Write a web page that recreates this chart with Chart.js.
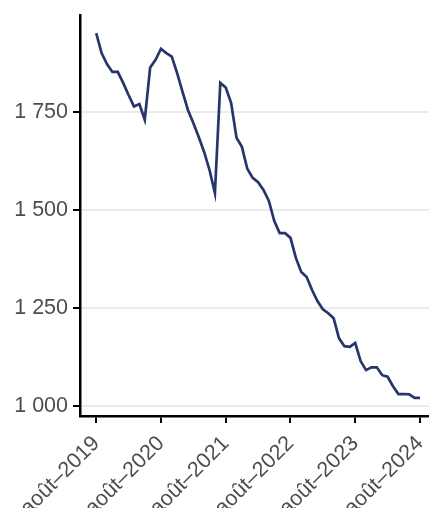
<!DOCTYPE html>
<html>
<head>
<meta charset="utf-8">
<script src="https://cdn.jsdelivr.net/npm/chart.js@4.4.1/dist/chart.umd.min.js"></script>
<style>
  html, body { margin: 0; padding: 0; background: #ffffff; }
  #wrap { width: 429px; height: 508px; position: relative; }
</style>
</head>
<body>
<div id="wrap"><canvas id="c" width="429" height="508"></canvas></div>
<script>
// Monthly series, August 2019 to August 2024 (index 0 = août 2019)
const values = [
  1951, 1900, 1872, 1852, 1852, 1824, 1793, 1764, 1770, 1730, 1863, 1883,
  1911, 1900, 1891, 1849, 1801, 1755, 1722, 1686, 1648, 1602, 1543, 1824,
  1812, 1773, 1684, 1661, 1605, 1582, 1571, 1551, 1523, 1472, 1441, 1441,
  1429, 1378, 1342, 1329, 1296, 1268, 1247, 1237, 1224, 1173, 1153, 1151,
  1161, 1115, 1092, 1099, 1099, 1079, 1075, 1051, 1031, 1031, 1030, 1021,
  1021
];
const xTickPositions = [0, 12, 24, 36, 48, 60];
const xTickLabels = ['août–2019', 'août–2020', 'août–2021', 'août–2022', 'août–2023', 'août–2024'];
const yTickValues = [1000, 1250, 1500, 1750];

const points = values.map((v, i) => ({ x: i, y: v }));
const fmt = v => String(v).replace(/\B(?=(\d{3})+(?!\d))/g, ' ');

const FONT = { family: '"Liberation Sans", Arial, sans-serif', size: 21.5 };

new Chart(document.getElementById('c'), {
  type: 'line',
  data: {
    datasets: [{
      data: points,
      borderColor: '#26366B',
      borderWidth: 2.7,
      pointRadius: 0,
      tension: 0,
      fill: false
    }]
  },
  options: {
    responsive: false,
    animation: false,
    devicePixelRatio: 1,
    layout: { padding: { top: 15, right: 0, left: 0, bottom: 0 } },
    plugins: { legend: { display: false }, tooltip: { enabled: false } },
    scales: {
      x: {
        type: 'linear',
        min: -3,
        max: 61.67,
        offset: false,
        border: { display: true, color: '#000000', width: 2.5 },
        grid: { drawOnChartArea: false, drawTicks: true, tickLength: 7, color: '#000000', tickColor: '#000000', tickWidth: 2, lineWidth: 2 },
        ticks: {
          autoSkip: false,
          maxRotation: 45,
          minRotation: 45,
          padding: 8,
          color: '#4D4D4D',
          font: FONT,
          callback: (v) => {
            const k = xTickPositions.indexOf(v);
            return k >= 0 ? xTickLabels[k] : '';
          }
        },
        afterBuildTicks: (s) => { s.ticks = xTickPositions.map(v => ({ value: v })); },
        afterFit: (s) => { s.height = 92; s.paddingLeft = 0; s.paddingRight = 0; }
      },
      y: {
        type: 'linear',
        min: 975,
        max: 1997,
        border: { display: true, color: '#000000', width: 2.5 },
        grid: { drawOnChartArea: true, drawTicks: true, tickLength: 7, color: '#EBEBEB', lineWidth: 2, tickColor: '#000000', tickWidth: 2 },
        ticks: {
          padding: 5,
          color: '#4D4D4D',
          font: FONT,
          callback: (v) => fmt(v)
        },
        afterBuildTicks: (s) => { s.ticks = yTickValues.map(v => ({ value: v })); },
        afterFit: (s) => { s.width = 80; s.paddingTop = 0; s.paddingBottom = 0; }
      }
    }
  }
});
</script>
</body>
</html>
